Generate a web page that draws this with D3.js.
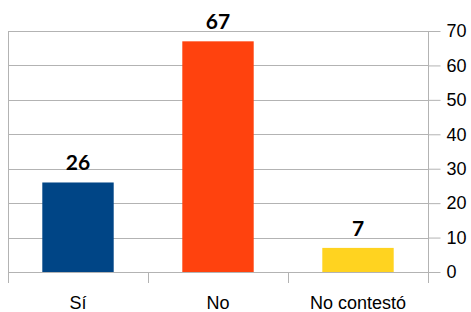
<!DOCTYPE html>
<html>
<head>
<meta charset="utf-8">
<script src="https://cdn.jsdelivr.net/npm/d3@7"></script>
<style>
  body { margin: 0; background: #fff; }
  svg text { font-family: "Liberation Sans", Arial, sans-serif; }
</style>
</head>
<body>
<div id="chart"></div>
<script>
'use strict';

// chart data
const categories = ['Sí', 'No', 'No contestó'];
const values = [26, 67, 7];
const colors = ['#004586', '#ff420e', '#ffd320'];
const yTicks = [0, 10, 20, 30, 40, 50, 60, 70];

(function(){
  let conf = {
    width: 471,
    height: 312,
    margin: { top: 31, right: 43, bottom: 40, left: 8 }
  };
  let w = conf.width - conf.margin.left - conf.margin.right;
  let h = conf.height - conf.margin.top - conf.margin.bottom;

  let svg = d3.select('#chart').append('svg')
    .attr('width', conf.width)
    .attr('height', conf.height);

  let g = svg.append('g')
    .attr('transform', 'translate(' + conf.margin.left + ',' + conf.margin.top + ')');

  let x = d3.scaleBand()
    .domain(categories)
    .range([0, w])
    .paddingInner(0.49)
    .paddingOuter(0.245);

  let y = d3.scaleLinear()
    .domain([0, 70])
    .range([h, 0]);

  // gridlines
  g.append('g')
    .selectAll('line')
    .data(yTicks)
    .enter().append('line')
    .attr('x1', 0)
    .attr('x2', w)
    .attr('y1', function(d){ return Math.round(y(d)) + 0.5; })
    .attr('y2', function(d){ return Math.round(y(d)) + 0.5; })
    .attr('stroke', '#b3b3b3')
    .attr('stroke-width', 1);

  // left frame line
  g.append('line')
    .attr('x1', 0.5).attr('x2', 0.5)
    .attr('y1', 0).attr('y2', h + 11)
    .attr('stroke', '#b3b3b3');

  // category separators below axis
  let bandStep = w / categories.length;
  g.append('g')
    .selectAll('line')
    .data(d3.range(1, categories.length))
    .enter().append('line')
    .attr('x1', function(d){ return Math.round(d * bandStep) + 0.5; })
    .attr('x2', function(d){ return Math.round(d * bandStep) + 0.5; })
    .attr('y1', h)
    .attr('y2', h + 11)
    .attr('stroke', '#b3b3b3');

  // bars
  g.append('g')
    .selectAll('rect')
    .data(values)
    .enter().append('rect')
    .attr('x', function(d, i){ return x(categories[i]); })
    .attr('y', function(d){ return y(d); })
    .attr('width', x.bandwidth())
    .attr('height', function(d){ return h - y(d); })
    .attr('fill', function(d, i){ return colors[i]; });

  // value labels
  g.append('g')
    .selectAll('text')
    .data(values)
    .enter().append('text')
    .attr('x', function(d, i){ return x(categories[i]) + x.bandwidth() / 2; })
    .attr('y', function(d){ return y(d) - 12; })
    .attr('text-anchor', 'middle')
    .style('font-family', 'Lato, "Open Sans", sans-serif')
    .style('font-weight', 'bold')
    .style('font-size', '21px')
    .attr('fill', '#000')
    .text(function(d){ return d; });

  // right axis
  let yAxis = d3.axisRight(y)
    .tickValues(yTicks)
    .tickSize(12)
    .tickPadding(6);

  let ya = g.append('g')
    .attr('transform', 'translate(' + (w + 0.5) + ',0)')
    .call(yAxis);
  ya.select('.domain').attr('stroke', '#b3b3b3').attr('d', 'M0,0V' + (h + 11));
  ya.selectAll('.tick line').attr('stroke', '#b3b3b3');
  ya.selectAll('.tick text')
    .style('font-family', '"Liberation Sans", Arial, sans-serif')
    .style('font-size', '18px')
    .attr('fill', '#000');

  // category labels
  g.append('g')
    .selectAll('text')
    .data(categories)
    .enter().append('text')
    .attr('x', function(d){ return x(d) + x.bandwidth() / 2; })
    .attr('y', h + 37)
    .attr('text-anchor', 'middle')
    .style('font-size', '18px')
    .attr('fill', '#000')
    .text(function(d){ return d; });
})();
</script>
</body>
</html>
